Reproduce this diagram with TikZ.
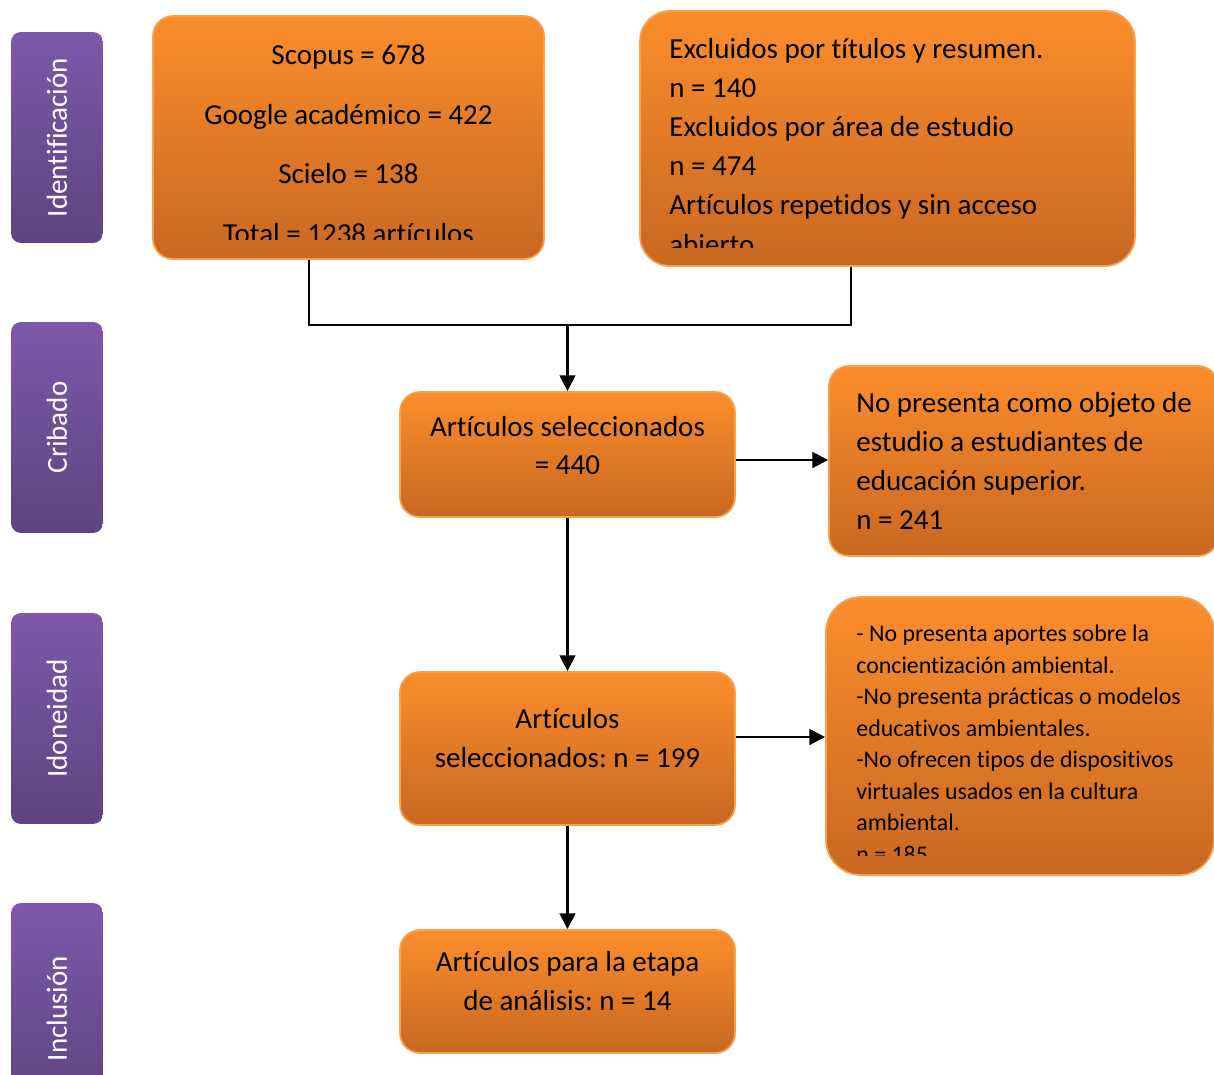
\documentclass[tikz,border=0pt]{standalone}
\usepackage{fontspec}
\setmainfont[Ligatures={NoCommon}]{Carlito}
\usetikzlibrary{arrows.meta,positioning,calc}
\frenchspacing
\definecolor{naranjaA}{RGB}{251,141,44}
\definecolor{naranjaB}{RGB}{200,104,33}
\definecolor{bordeN}{RGB}{246,160,80}
\definecolor{moradoA}{RGB}{125,88,170}
\definecolor{moradoB}{RGB}{94,68,128}
\tikzset{
  caja/.style={rounded corners=0.4cm, top color=naranjaA, bottom color=naranjaB,
    draw=bordeN, line width=1pt},
  texto/.style={inner sep=0pt, font=\fontsize{16.5}{22.1}\selectfont},
  fase/.style={rotate=90, rounded corners=0.2cm, top color=moradoA, bottom color=moradoB,
    minimum width=4.22cm, minimum height=1.84cm, inner sep=0pt, text=white,
    font=\fontsize{16.5}{18}\selectfont},
  linea/.style={line width=1.3pt},
  flecha/.style={line width=1.3pt, -{Triangle[length=9pt,width=9pt]}},
}
\begin{document}
\begin{tikzpicture}[x=0.02cm,y=-0.02cm]
    \clip (0,0) rectangle (1214,1075);
    % fases
    \node[fase] (ident) at (57,137.5) {Identificación};
    \node[fase] (crib) at (57,427.5) {Cribado};
    \node[fase] (idon) at (57,718.5) {Idoneidad};
    \node[fase] (incl) at (57,1008.5) {Inclusión};
    % identificacion
    \node[caja, minimum width=7.82cm, minimum height=4.86cm] (fuentes) at (348.5,137.5) {};
    \begin{scope}
      \clip (153,16) rectangle (544,239);
      \node[texto, align=center, anchor=north, font=\fontsize{16.5}{34.1}\selectfont]
        (fuentestxt) at (348.5,44) {Scopus = 678\\ Google académico = 422\\ Scielo = 138\\ Total = 1238 artículos};
    \end{scope}
    \node[caja, rounded corners=0.6cm, minimum width=9.9cm, minimum height=5.1cm] (excl) at (887.5,138.5) {};
    \begin{scope}
      \clip (640,11) rectangle (1135,247);
      \node[texto, align=left, anchor=north west, font=\fontsize{16.5}{22.2}\selectfont]
        (excltxt) at (669,38.5) {Excluidos por títulos y resumen.\\ n = 140\\ Excluidos por área de estudio\\ n = 474\\ Artículos repetidos y sin acceso\\ abierto};
    \end{scope}
    \coordinate (unionA) at (309,325);
    \coordinate (unionB) at (851,325);
    \draw[linea] (fuentes.south -| unionA) -- (unionA) -- (unionB) -- (excl.south -| unionB);
    % cribado
    \node[caja, minimum width=6.7cm, minimum height=2.5cm] (sel1) at (567.5,454.5) {};
    \node[texto, align=center] (sel1txt) at (567.5,445.5) {Artículos seleccionados\\ = 440};
    \node[caja, minimum width=7.78cm, minimum height=3.8cm] (nopres) at (1023.5,461) {};
    \node[texto, align=left, anchor=west] (noprestxt) at (856,461) {No presenta como objeto de\\ estudio a estudiantes de\\ educación superior.\\ n = 241};
    \draw[flecha] (sel1.north |- unionA) -- (sel1.north);
    \draw[flecha] ([yshift=-0.11cm]sel1.east) -- ([yshift=-0.11cm]sel1.east -| nopres.west);
    % idoneidad
    \node[caja, minimum width=6.7cm, minimum height=3.06cm] (sel2) at (567.5,748.5) {};
    \node[texto, align=center] (sel2txt) at (567.5,738) {Artículos\\ seleccionados: n = 199};
    \node[caja, rounded corners=0.7cm, minimum width=7.76cm, minimum height=5.56cm] (criterios) at (1020,736) {};
    \begin{scope}
      \clip (826,597) rectangle (1214,855);
      \node[texto, align=left, anchor=north west, font=\fontsize{13.6}{17.9}\selectfont]
        (criteriostxt) at (856,625) {- No presenta aportes sobre la\\ concientización ambiental.\\ -No presenta prácticas o modelos\\ educativos ambientales.\\ -No ofrecen tipos de dispositivos\\ virtuales usados en la cultura\\ ambiental.\\ n = 185};
    \end{scope}
    \draw[flecha] (sel1.south) -- (sel2.north);
    \draw[flecha] ([yshift=0.23cm]sel2.east) -- ([yshift=0.23cm]sel2.east -| criterios.west);
    % inclusion
    \node[caja, minimum width=6.7cm, minimum height=2.46cm] (final) at (567.5,991.5) {};
    \node[texto, align=center] (finaltxt) at (567.5,981) {Artículos para la etapa\\ de análisis: n = 14};
    \draw[flecha] (sel2.south) -- (final.north);
\end{tikzpicture}
\end{document}
